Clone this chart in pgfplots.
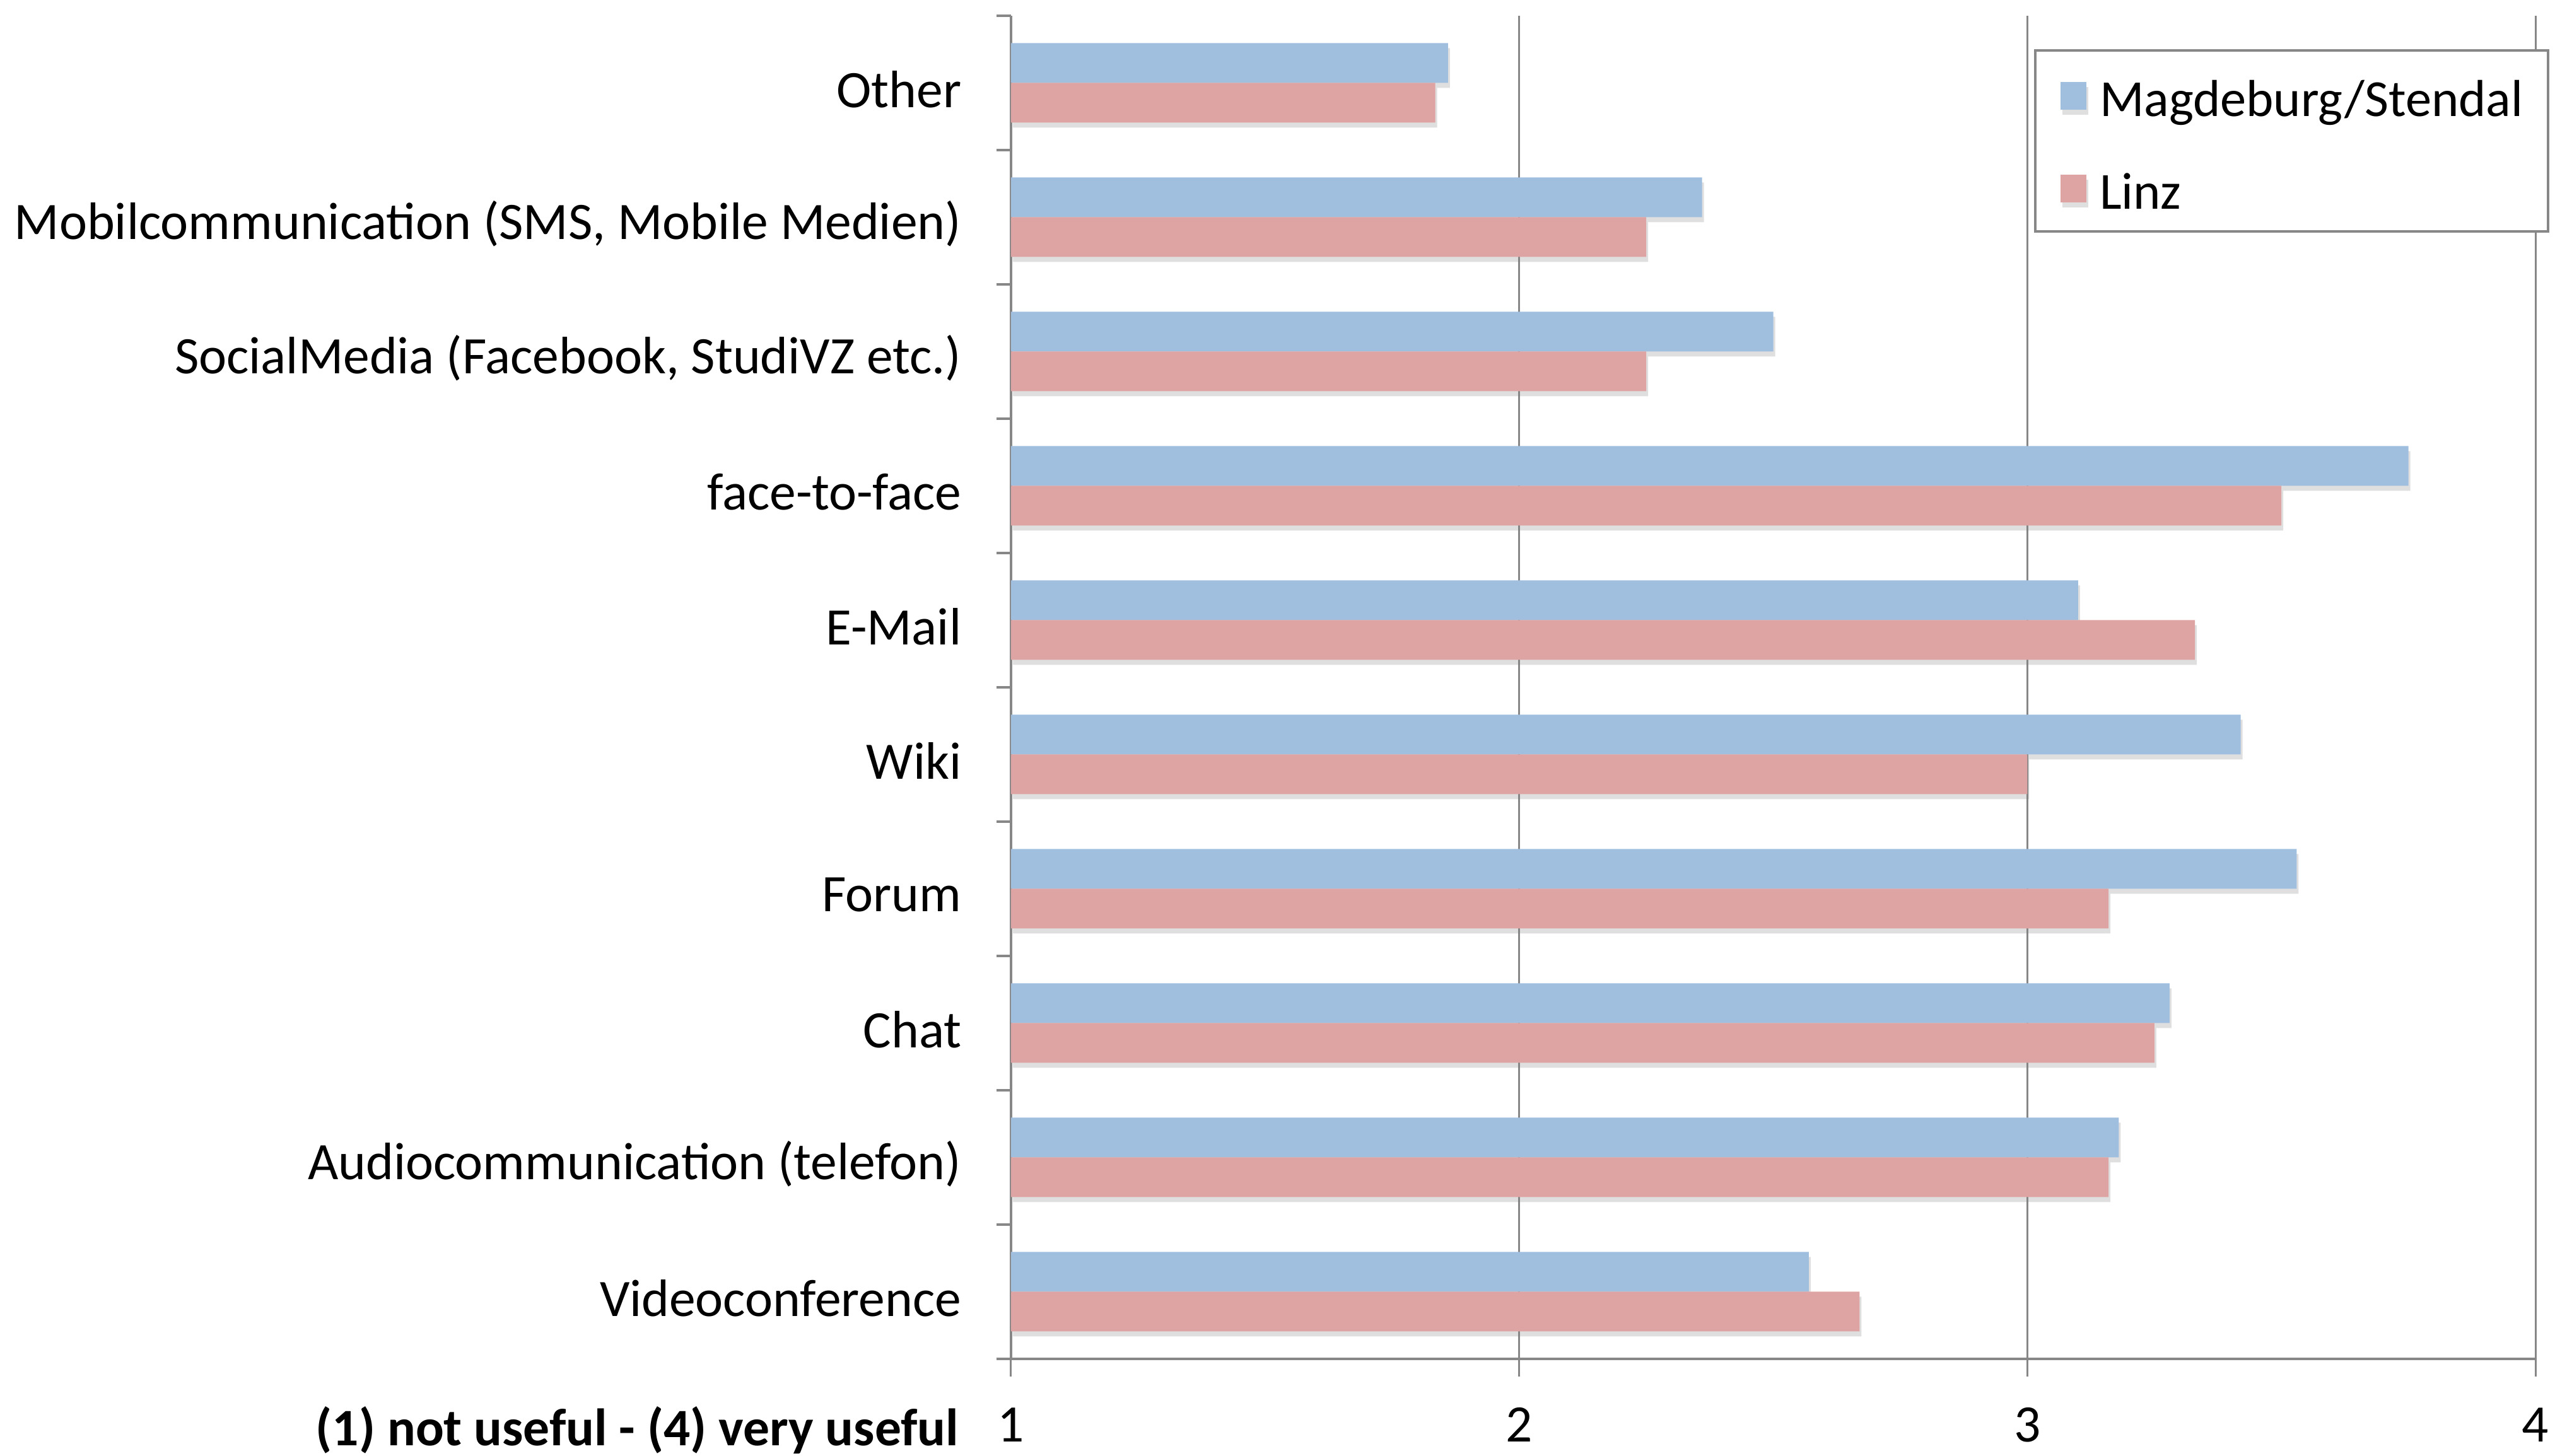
\documentclass[border=0pt]{standalone}
\usepackage{fontspec}
\setmainfont{Carlito}
\usepackage{pgfplots}
\pgfplotsset{compat=1.18}
\usetikzlibrary{shadows}
\definecolor{barblue}{RGB}{160,190,222}
\definecolor{barred}{RGB}{222,163,163}
\definecolor{axgray}{RGB}{135,135,135}
\newcommand{\lbl}{\fontsize{16.7}{20}\selectfont}
\newcommand{\lgd}{\fontsize{16.5}{20}\selectfont}
\begin{document}
\begin{tikzpicture}
\begin{axis}[
  scale only axis, width=483.4pt, height=426pt,
  xbar, bar width=12.6pt,
  xmin=1, xmax=4, ymin=-0.5, ymax=9.5,
  axis lines=left,
  axis line style={-, draw=axgray, line width=0.8pt},
  tick align=outside,
  major tick length=5.6pt, minor tick length=4.6pt,
  xtick={1,2,3,4},
  xmajorgrids,
  grid style={draw=axgray, line width=0.6pt},
  x tick style={draw=axgray, line width=0.6pt},
  ytick={0,...,9},
  yticklabels={Videoconference, Audiocommunication (telefon), Chat, Forum, Wiki, E-Mail, face-to-face, {SocialMedia (Facebook, StudiVZ etc.)}, {Mobilcommunication (SMS, Mobile Medien)}, Other},
  minor ytick={-0.5,0.5,...,9.5},
  major y tick style={draw=none},
  minor y tick style={draw=axgray, line width=0.8pt},
  /pgf/number format/assume math mode=true,
  tick label style={font=\lbl},
  xticklabel style={yshift=-6.4pt},
  yticklabel style={xshift=-6.6pt, yshift=-2pt},
  legend cell align=left,
  legend image code/.code={\fill[#1] (0pt,-4.8pt) rectangle (8.2pt,4pt);},
  legend style={at={(rel axis cs:0,1)}, anchor=north west, xshift=324.4pt, yshift=-10.6pt,
    draw=axgray, line width=0.8pt, font=\lgd,
    inner xsep=8pt, inner ysep=6pt, row sep=13.4pt,
    nodes={inner sep=0pt, text height=15pt, text depth=1pt},
    /tikz/every odd column/.append style={column sep=4.2pt}},
]
\addplot[fill=barblue, draw=none, bar shift=6.3pt,
  drop shadow={shadow xshift=0.6pt, shadow yshift=-1.6pt, opacity=0.25}] coordinates {
  (2.57,0) (3.18,1) (3.28,2) (3.53,3) (3.42,4) (3.10,5) (3.75,6) (2.50,7) (2.36,8) (1.86,9)};
\addlegendentry{Magdeburg/Stendal}
\addplot[fill=barred, draw=none, bar shift=-6.3pt,
  drop shadow={shadow xshift=0.6pt, shadow yshift=-1.6pt, opacity=0.25}] coordinates {
  (2.67,0) (3.16,1) (3.25,2) (3.16,3) (3.00,4) (3.33,5) (3.50,6) (2.25,7) (2.25,8) (1.835,9)};
\addlegendentry{Linz}
\coordinate (O) at (rel axis cs:0,0);
\end{axis}
\node[anchor=base east, font=\lbl\bfseries, inner sep=0pt] at ([xshift=-16.4pt,yshift=-27.6pt]O) {(1) not useful - (4) very useful};
\pgfresetboundingbox
\path (O) ++(-320.6pt,-30.8pt) rectangle ++(810.2pt,461.8pt);
\end{tikzpicture}
\end{document}
